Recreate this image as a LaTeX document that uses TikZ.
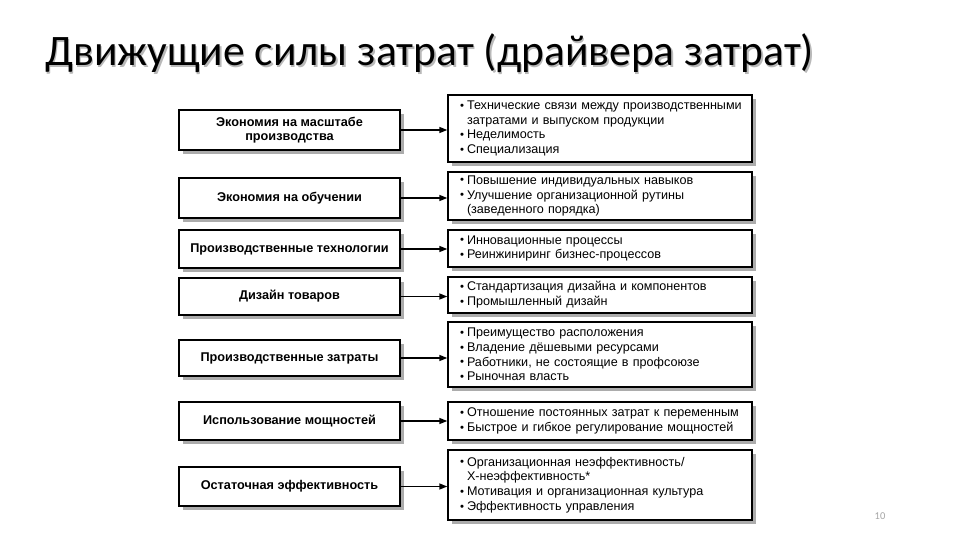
\documentclass[tikz,border=0pt]{standalone}
\usepackage{fontspec}
\usepackage{graphicx}
\setmainfont{Liberation Sans}
\newfontfamily\titlefont{Carlito}
\usetikzlibrary{arrows.meta,shadows}
\newcommand\smb{\makebox[7pt][l]{\raisebox{0.3pt}{\scalebox{0.9}{\textbullet}}}}
\newcommand\bl[1]{\mbox{\smb#1}}
\newcommand\cl[1]{\mbox{\hspace*{7pt}#1}}
\tikzset{
  lbox/.style={draw, line width=1.4pt, fill=white, minimum width=221pt, inner sep=0pt,
    align=center, font=\bfseries\fontsize{12.7}{14}\selectfont,
    drop shadow={shadow xshift=4pt, shadow yshift=-4pt, fill=gray!65, opacity=1}},
  rbox/.style={draw, line width=1.4pt, fill=white, minimum width=304pt, inner xsep=12pt, inner ysep=0pt,
    text width=280pt, align=left, font=\fontsize{12.6}{14.8}\selectfont,
    drop shadow={shadow xshift=4pt, shadow yshift=-4pt, fill=gray!65, opacity=1}},
  arr/.style={line width=1.5pt, -{Triangle[length=8pt,width=6pt]}},
}
\begin{document}
\begin{tikzpicture}[x=1pt,y=-1pt]
\useasboundingbox[fill=white] (0,0) rectangle (960,540);
% title
\node[anchor=base west, inner sep=0, text=gray!55, font=\titlefont\fontsize{43.5}{48}\selectfont] (titleshadow) at (46.5,67.5) {Движущие силы затрат (драйвера затрат)};
\node[anchor=base west, inner sep=0, font=\titlefont\fontsize{43.5}{48}\selectfont] (title) at (45,66) {Движущие силы затрат (драйвера затрат)};
% left boxes
\node[lbox, minimum height=40pt] (L1) at (289.5,130) {Экономия на масштабе\\производства};
\node[lbox, minimum height=40pt] (L2) at (289.5,198) {Экономия на обучении};
\node[lbox, minimum height=38pt] (L3) at (289.5,249) {Производственные технологии};
\node[lbox, minimum height=37pt] (L4) at (289.5,296.5) {Дизайн товаров};
\node[lbox, minimum height=36pt] (L5) at (289.5,358) {Производственные затраты};
\node[lbox, minimum height=38pt] (L6) at (289.5,421) {Использование мощностей};
\node[lbox, minimum height=39pt] (L7) at (289.5,486.5) {Остаточная эффективность};
% right boxes
\node[rbox, minimum height=67pt] (R1) at (600,128.5) {\bl{Технические связи между производственными}\\\cl{затратами и выпуском продукции}\\\bl{Неделимость}\\\bl{Специализация}};
\node[rbox, minimum height=48pt] (R2) at (600,196) {\bl{Повышение индивидуальных навыков}\\\bl{Улучшение организационной рутины}\\\cl{(заведенного порядка)}};
\node[rbox, minimum height=37pt] (R3) at (600,248.5) {\bl{Инновационные процессы}\\\bl{Реинжиниринг бизнес-процессов}};
\node[rbox, minimum height=36pt] (R4) at (600,295) {\bl{Стандартизация дизайна и компонентов}\\\bl{Промышленный дизайн}};
\node[rbox, minimum height=65pt] (R5) at (600,354.5) {\bl{Преимущество расположения}\\\bl{Владение дёшевыми ресурсами}\\\bl{Работники, не состоящие в профсоюзе}\\\bl{Рыночная власть}};
\node[rbox, minimum height=38pt] (R6) at (600,421) {\bl{Отношение постоянных затрат к переменным}\\\bl{Быстрое и гибкое регулирование мощностей}};
\node[rbox, minimum height=70pt] (R7) at (600,485) {\bl{Организационная неэффективность/}\\\cl{Х-неэффективность*}\\\bl{Мотивация и организационная культура}\\\bl{Эффективность управления}};
% arrows
\foreach \i in {1,...,7}{
  \draw[arr] (L\i.east) -- (L\i.east -| R\i.west);
}
% page number
\node[anchor=base, inner sep=0, text=gray!70, font=\titlefont\fontsize{10.5}{12}\selectfont] (pagenum) at (880,519) {10};
\end{tikzpicture}
\end{document}
